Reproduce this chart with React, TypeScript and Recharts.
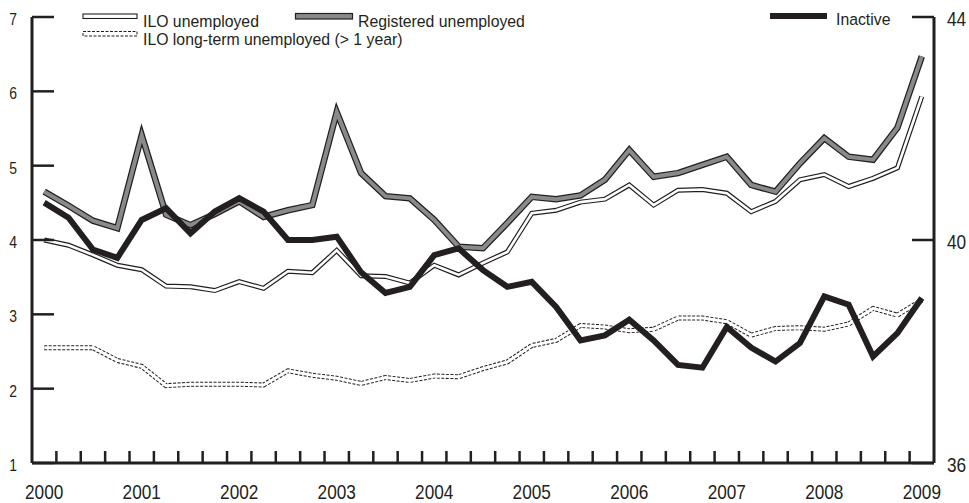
import React from 'react';
import { LineChart, Line, XAxis, YAxis } from 'recharts';

// Quarterly series, 2000 Q1 .. 2009 Q1
const YEARS = ['2000', '2001', '2002', '2003', '2004', '2005', '2006', '2007', '2008', '2009'];

const ILO_UNEMPLOYED = [
  4.0, 3.93, 3.8, 3.66, 3.6, 3.38, 3.37, 3.32, 3.44, 3.35, 3.58, 3.56, 3.86,
  3.52, 3.51, 3.42, 3.66, 3.53, 3.69, 3.84, 4.36, 4.4, 4.51, 4.55, 4.74, 4.47,
  4.67, 4.68, 4.63, 4.38, 4.52, 4.81, 4.88, 4.72, 4.83, 4.97, 5.93,
];

const REGISTERED_UNEMPLOYED = [
  4.65, 4.46, 4.26, 4.16, 5.41, 4.34, 4.2, 4.35, 4.52, 4.31, 4.4, 4.47, 5.72,
  4.9, 4.59, 4.56, 4.27, 3.91, 3.89, 4.23, 4.58, 4.55, 4.6, 4.81, 5.21, 4.85,
  4.9, 5.01, 5.12, 4.74, 4.65, 5.03, 5.37, 5.12, 5.08, 5.51, 6.47,
];

const ILO_LONG_TERM = [
  2.55, 2.55, 2.55, 2.38, 2.3, 2.04, 2.06, 2.06, 2.06, 2.05, 2.24, 2.18, 2.14,
  2.07, 2.15, 2.11, 2.17, 2.16, 2.27, 2.36, 2.58, 2.65, 2.85, 2.83, 2.78, 2.8,
  2.95, 2.95, 2.9, 2.72, 2.81, 2.82, 2.8, 2.87, 3.08, 2.99, 3.19,
];

// right axis
const INACTIVE = [
  40.67, 40.4, 39.83, 39.68, 40.36, 40.57, 40.12, 40.51, 40.75, 40.51, 40.0,
  40.0, 40.06, 39.42, 39.05, 39.16, 39.73, 39.85, 39.46, 39.16, 39.25, 38.8,
  38.2, 38.29, 38.57, 38.2, 37.76, 37.71, 38.44, 38.07, 37.82, 38.15, 38.99,
  38.84, 37.91, 38.33, 38.96,
];

const LEFT_TICKS = [1, 2, 3, 4, 5, 6, 7];
const RIGHT_TICKS = [36, 40, 44];

const INK = '#231f20';
const GREY = '#8a8a8a';
const FONT = '"Liberation Sans", Arial, sans-serif';
const SQUEEZE = 0.82; // narrow look of the original typeface
const LEGEND_SQUEEZE = 0.93;

const data = ILO_UNEMPLOYED.map((v, i) => ({
  q: i,
  ilo: v,
  registered: REGISTERED_UNEMPLOYED[i],
  longTerm: ILO_LONG_TERM[i],
  inactive: INACTIVE[i],
}));

// quarter boundaries get a tick mark, first quarter of each year gets a label
const QUARTER_MARKS = data.slice(1).map(d => d.q - 0.5);
const YEAR_POS = YEARS.map((_y, i) => i * 4);
const X_TICKS = [...QUARTER_MARKS, ...YEAR_POS];

const NarrowText = ({
  x,
  y,
  size,
  anchor = 'start',
  squeeze = SQUEEZE,
  children,
}: {
  x: number;
  y: number;
  size: number;
  anchor?: 'start' | 'middle' | 'end';
  squeeze?: number;
  children: React.ReactNode;
}) => (
  <text
    transform={`translate(${x},${y}) scale(${squeeze},1)`}
    textAnchor={anchor}
    fontSize={size}
    fontFamily={FONT}
    fill={INK}
  >
    {children}
  </text>
);

const XTick = (props: any) => {
  const { x, y, payload } = props;
  const v = payload.value;
  if (v % 4 === 0) {
    return (
      <NarrowText x={x} y={y + 36} size={21} anchor='middle'>
        {YEARS[v / 4]}
      </NarrowText>
    );
  }
  return <line x1={x} x2={x} y1={y} y2={y - 12} stroke={INK} strokeWidth={2.5} />;
};

const LeftTick = (props: any) => {
  const { x, y, payload } = props;
  return (
    <g>
      <line x1={x} x2={x + 22} y1={y} y2={y} stroke={INK} strokeWidth={2.5} />
      <NarrowText x={x - 15} y={y + 8} size={17} anchor='end'>
        {payload.value}
      </NarrowText>
    </g>
  );
};

const RightTick = (props: any) => {
  const { x, y, payload } = props;
  return (
    <g>
      <line x1={x} x2={x - 22} y1={y} y2={y} stroke={INK} strokeWidth={2.5} />
      <NarrowText x={x + 13} y={y + 9} size={21}>
        {payload.value}
      </NarrowText>
    </g>
  );
};

const LegendOverlay = () => (
  <svg
    width={969}
    height={503}
    style={{ position: 'absolute', left: 0, top: 0, pointerEvents: 'none' }}
  >
    {/* ILO unemployed */}
    <rect x={83} y={14} width={54} height={4.5} fill='#fff' stroke={INK} strokeWidth={1.1} />
    <NarrowText x={143} y={27} size={17} squeeze={LEGEND_SQUEEZE}>
      ILO unemployed
    </NarrowText>
    {/* Registered unemployed */}
    <rect x={295.5} y={13.5} width={57} height={5.5} fill={GREY} stroke={INK} strokeWidth={1.2} />
    <NarrowText x={358} y={27} size={17} squeeze={LEGEND_SQUEEZE}>
      Registered unemployed
    </NarrowText>
    {/* ILO long-term */}
    <rect
      x={83}
      y={31.5}
      width={54}
      height={4.5}
      fill='#fff'
      stroke={INK}
      strokeWidth={1}
      strokeDasharray='3 1.5'
    />
    <NarrowText x={143} y={45} size={17} squeeze={LEGEND_SQUEEZE}>
      ILO long-term unemployed (&gt; 1 year)
    </NarrowText>
    {/* Inactive */}
    <rect x={770} y={13} width={57} height={6} fill={INK} />
    <NarrowText x={836} y={25} size={17} squeeze={LEGEND_SQUEEZE}>
      Inactive
    </NarrowText>
  </svg>
);

export default function App() {
  return (
    <div
      style={{
        position: 'fixed',
        left: 0,
        top: 0,
        width: 969,
        height: 503,
        background: '#fff',
      }}
    >
      <LineChart
        width={969}
        height={503}
        data={data}
        margin={{ top: 17, right: 0, bottom: 0, left: 0 }}
      >
        <XAxis
          dataKey='q'
          type='number'
          domain={[-0.5, 36.5]}
          ticks={X_TICKS}
          interval={0}
          height={40}
          tickSize={0}
          tickMargin={0}
          tickLine={false}
          axisLine={{ stroke: INK, strokeWidth: 3 }}
          tick={<XTick />}
        />
        <YAxis
          yAxisId='left'
          orientation='left'
          domain={[1, 7]}
          ticks={LEFT_TICKS}
          interval={0}
          width={32}
          tickSize={0}
          tickMargin={0}
          tickLine={false}
          axisLine={{ stroke: INK, strokeWidth: 3 }}
          tick={<LeftTick />}
        />
        <YAxis
          yAxisId='right'
          orientation='right'
          domain={[36, 44]}
          ticks={RIGHT_TICKS}
          interval={0}
          width={35}
          tickSize={0}
          tickMargin={0}
          tickLine={false}
          axisLine={{ stroke: INK, strokeWidth: 3 }}
          tick={<RightTick />}
        />

        {/* ILO long-term: dashed outline, white core */}
        <Line
          yAxisId='left'
          dataKey='longTerm'
          stroke={INK}
          strokeWidth={5}
          strokeDasharray='3 1.5'
          dot={false}
          activeDot={false}
          isAnimationActive={false}
        />
        <Line
          yAxisId='left'
          dataKey='longTerm'
          stroke='#fff'
          strokeWidth={3}
          dot={false}
          activeDot={false}
          isAnimationActive={false}
        />

        {/* ILO unemployed: black outline, white core */}
        <Line
          yAxisId='left'
          dataKey='ilo'
          stroke={INK}
          strokeWidth={5}
          dot={false}
          activeDot={false}
          isAnimationActive={false}
        />
        <Line
          yAxisId='left'
          dataKey='ilo'
          stroke='#fff'
          strokeWidth={2.6}
          dot={false}
          activeDot={false}
          isAnimationActive={false}
        />

        {/* Registered unemployed: black outline, grey core */}
        <Line
          yAxisId='left'
          dataKey='registered'
          stroke={INK}
          strokeWidth={6.5}
          dot={false}
          activeDot={false}
          isAnimationActive={false}
        />
        <Line
          yAxisId='left'
          dataKey='registered'
          stroke={GREY}
          strokeWidth={4}
          dot={false}
          activeDot={false}
          isAnimationActive={false}
        />

        {/* Inactive on right axis */}
        <Line
          yAxisId='right'
          dataKey='inactive'
          stroke={INK}
          strokeWidth={6}
          dot={false}
          activeDot={false}
          isAnimationActive={false}
        />
      </LineChart>
      <LegendOverlay />
    </div>
  );
}
